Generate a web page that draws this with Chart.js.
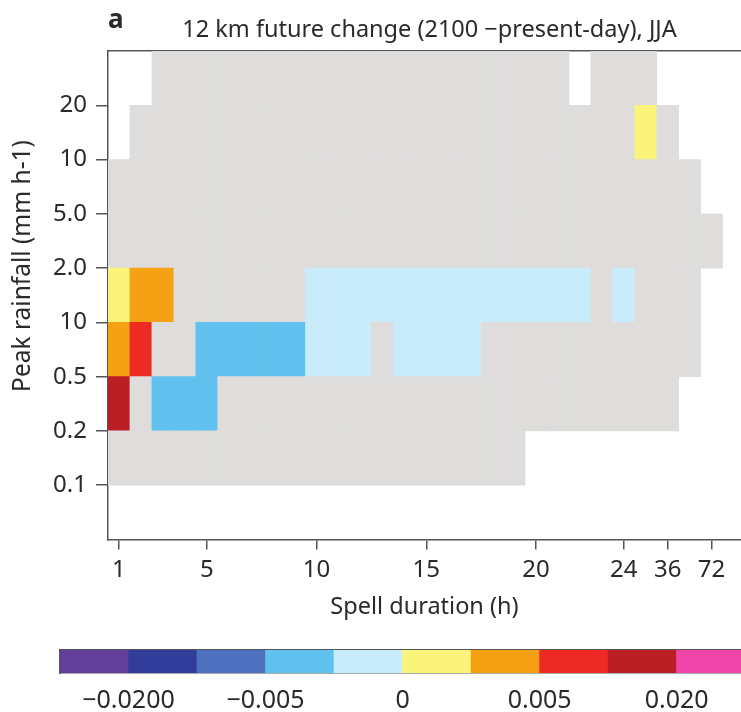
<!DOCTYPE html>
<html>
<head>
<meta charset="UTF-8">
<script src="https://cdn.jsdelivr.net/npm/chart.js@4.4.0/dist/chart.umd.min.js"></script>
<style>
  body { margin: 0; background: #fff; overflow: hidden; }
  #main { position: absolute; left: 0; top: 0; width: 741px; height: 630px; }
  #cbar { position: absolute; left: 0; top: 630px; width: 741px; height: 82px; }
</style>
</head>
<body>
<div id="main"><canvas id="spellChart"></canvas></div>
<div id="cbar"><canvas id="colourBar"></canvas></div>
<script>
// spell duration columns (h); only some of them get a tick label
const durations = ['1','2','3','4','5','6','7','8','9','10','11','12','13','14','15','16','17','18','19','20','21','22','23','24','30','36','48','72','96'];
const durationTicks = ['1','5','10','15','20','24','36','72'];
// peak rainfall bin edges, bottom to top
const rainTicks = ['0.1','0.2','0.5','10','2.0','5.0','10','20'];

// change per cell, one row per rainfall bin; n = no spells, g = not significant
const n = null, g = 'ns';
const rain01 = [g,g,g,g,g,g,g,g,g,g,g,g,g,g,g,g,g,g,g,n,n,n,n,n,n,n,n,n,n];
const rain02 = [0.015,g,-0.003,-0.003,-0.003,g,g,g,g,g,g,g,g,g,g,g,g,g,g,g,g,g,g,g,g,g,n,n,n];
const rain05 = [0.003,0.007,g,g,-0.003,-0.003,-0.003,-0.003,-0.003,-0.001,-0.001,-0.001,g,-0.001,-0.001,-0.001,-0.001,g,g,g,g,g,g,g,g,g,g,n,n];
const rain1 = [0.001,0.003,0.003,g,g,g,g,g,g,-0.001,-0.001,-0.001,-0.001,-0.001,-0.001,-0.001,-0.001,-0.001,-0.001,-0.001,-0.001,-0.001,g,-0.001,g,g,g,n,n];
const rain2 = [g,g,g,g,g,g,g,g,g,g,g,g,g,g,g,g,g,g,g,g,g,g,g,g,g,g,g,g,n];
const rain5 = [g,g,g,g,g,g,g,g,g,g,g,g,g,g,g,g,g,g,g,g,g,g,g,g,g,g,g,n,n];
const rain10 = [n,g,g,g,g,g,g,g,g,g,g,g,g,g,g,g,g,g,g,g,g,g,g,g,0.001,g,n,n,n];
const rain20 = [n,n,g,g,g,g,g,g,g,g,g,g,g,g,g,g,g,g,g,g,g,n,g,g,g,n,n,n,n];
const rows = [rain01, rain02, rain05, rain1, rain2, rain5, rain10, rain20];

// colour bar bins
const binEdges = [-0.05, -0.02, -0.01, -0.005, -0.002, 0, 0.002, 0.005, 0.01, 0.02, 0.05];
const binColours = ['#613f9a','#323c9a','#4e70be','#61c1ee','#c9ecfb','#faf57a','#f6a014','#ee2a24','#bc1e25','#f045a8'];
const cbarTickAt = [1, 3, 5, 7, 9];
const cbarTickText = ['\u22120.0200', '\u22120.005', '0', '0.005', '0.020'];

const greyCell = '#dedddc';
const ink = '#2a2a2a';
const axisInk = '#555555';

Chart.defaults.font.family = '"Noto Sans", sans-serif';
Chart.defaults.color = ink;

function colourFor(v) {
  if (v === g) return greyCell;
  for (let i = 0; i < binColours.length; i++) {
    if (v >= binEdges[i] && v < binEdges[i + 1]) return binColours[i];
  }
  return greyCell;
}

// one dataset per rainfall row, each cell a floating bar [row, row+1]
const datasets = rows.map((row, k) => {
  const pts = [], cols = [];
  row.forEach((v, i) => {
    if (v === n) return;
    pts.push({x: i, y: [k + 1, k + 2]});
    cols.push(colourFor(v));
  });
  return {data: pts, backgroundColor: cols, borderWidth: 0, grouped: false,
          barPercentage: 1, categoryPercentage: 1};
});

const tickCols = durationTicks.map(d => durations.indexOf(d));

const panelText = {
  id: 'panelText',
  afterDraw(chart) {
    const {ctx, chartArea} = chart;
    ctx.save();
    ctx.fillStyle = ink;
    ctx.textBaseline = 'alphabetic';
    ctx.textAlign = 'left';
    ctx.font = 'bold 26px "Noto Sans"';
    ctx.fillText('a', chartArea.left, 28);
    ctx.font = '23.5px "Noto Sans"';
    ctx.textAlign = 'center';
    ctx.fillText('12 km future change (2100 \u2212present-day), JJA', (chartArea.left + chartArea.right) / 2 + 5, 37);
    ctx.translate(23, 266);
    ctx.rotate(-Math.PI / 2);
    ctx.textBaseline = 'middle';
    ctx.font = '24.5px "Noto Sans"';
    ctx.fillText('Peak rainfall (mm h-1)', 0, 0);
    ctx.restore();
  }
};

new Chart(document.getElementById('spellChart'), {
  type: 'bar',
  data: {datasets: datasets},
  plugins: [panelText],
  options: {
    responsive: true,
    maintainAspectRatio: false,
    animation: false,
    layout: {padding: {top: 51, left: 0, right: 0, bottom: 0}},
    plugins: {legend: {display: false}, tooltip: {enabled: false}},
    scales: {
      x: {
        type: 'linear', min: -0.5, max: 28.34, offset: false,
        afterBuildTicks: s => { s.ticks = tickCols.map(v => ({value: v})); },
        afterFit: s => { s.height = 90.5; },
        ticks: {callback: v => durations[v], font: {size: 24}, padding: 6, autoSkip: false, maxRotation: 0},
        grid: {display: true, drawOnChartArea: false, drawTicks: true, tickLength: 10, color: axisInk, lineWidth: 1.5, offset: false},
        border: {display: true, color: axisInk, width: 1.5},
        title: {display: true, text: 'Spell duration (h)', font: {size: 23.5}, padding: {top: 0, bottom: 9}}
      },
      xTop: {
        type: 'linear', position: 'top', min: -0.5, max: 28.34,
        afterFit: s => { s.height = 0; },
        ticks: {display: false},
        grid: {display: false},
        border: {display: true, color: axisInk, width: 1.5}
      },
      y: {
        type: 'linear', min: 0, max: 9,
        afterBuildTicks: s => { s.ticks = rainTicks.map((t, i) => ({value: i + 1})); },
        afterFit: s => { s.width = 108; },
        ticks: {callback: v => rainTicks[v - 1], font: {size: 24}, padding: 9},
        grid: {display: true, drawOnChartArea: false, drawTicks: true, tickLength: 12, color: axisInk, lineWidth: 1.5},
        border: {display: true, color: axisInk, width: 1.5}
      }
    }
  }
});

// colour bar: one floating bar per bin
const cbarBars = binColours.map((c, i) => ({x: i + 0.5, y: [0, 1]}));

new Chart(document.getElementById('colourBar'), {
  type: 'bar',
  data: {datasets: [{data: cbarBars, backgroundColor: binColours, borderWidth: 0,
                     barPercentage: 1, categoryPercentage: 1}]},
  options: {
    responsive: true,
    maintainAspectRatio: false,
    animation: false,
    layout: {padding: {top: 20, left: 60, right: 0, bottom: 0}},
    plugins: {legend: {display: false}, tooltip: {enabled: false}},
    scales: {
      x: {
        type: 'linear', min: 0, max: 9.94, offset: false,
        afterBuildTicks: s => { s.ticks = cbarTickAt.map(v => ({value: v})); },
        afterFit: s => { s.height = 39; },
        ticks: {callback: v => cbarTickText[cbarTickAt.indexOf(v)], font: {size: 25}, padding: 5, autoSkip: false, maxRotation: 0},
        grid: {display: false},
        border: {display: true, color: axisInk, width: 1.5}
      },
      xTop: {
        type: 'linear', position: 'top', min: 0, max: 9.94,
        afterFit: s => { s.height = 0; },
        ticks: {display: false},
        grid: {display: false},
        border: {display: true, color: axisInk, width: 1.5}
      },
      y: {
        type: 'linear', min: 0, max: 1,
        afterFit: s => { s.width = 0; },
        ticks: {display: false},
        grid: {display: false},
        border: {display: true, color: axisInk, width: 1.5}
      }
    }
  }
});
</script>
</body>
</html>
